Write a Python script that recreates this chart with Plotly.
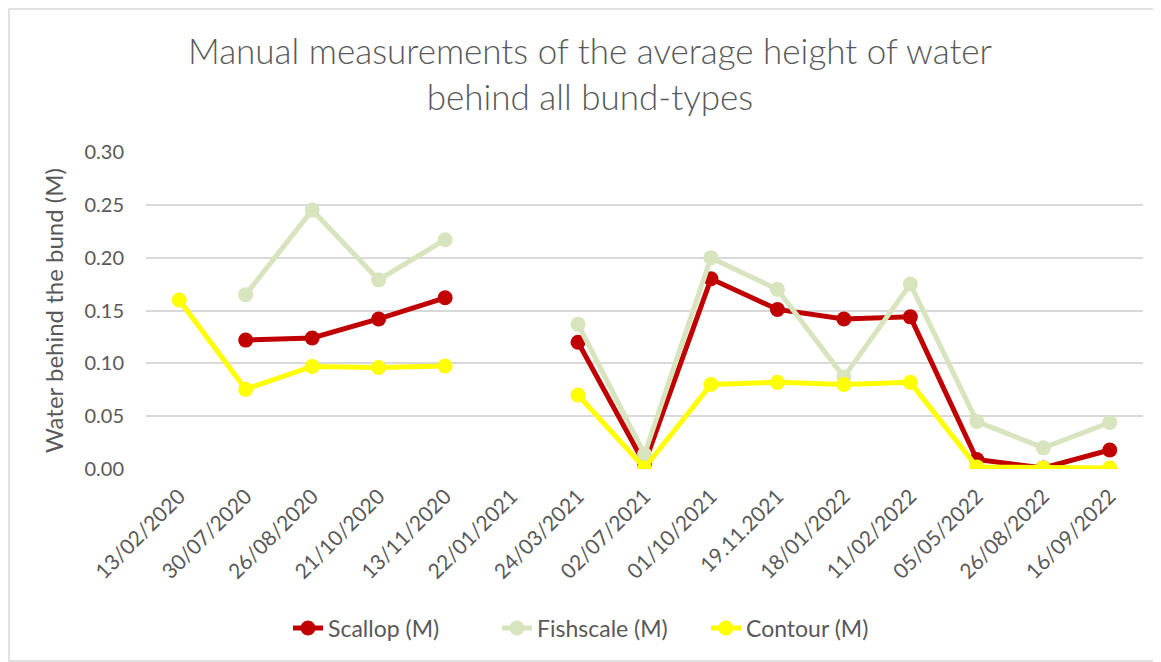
import plotly.graph_objects as go

categories = ["13/02/2020", "30/07/2020", "26/08/2020", "21/10/2020", "13/11/2020",
              "22/01/2021", "24/03/2021", "02/07/2021", "01/10/2021", "19.11.2021",
              "18/01/2022", "11/02/2022", "05/05/2022", "26/08/2022", "16/09/2022"]
scallop = [None, 0.122, 0.124, 0.142, 0.162, None, 0.120, 0.005, 0.180, 0.151,
           0.142, 0.144, 0.009, 0.001, 0.018]
fishscale = [None, 0.165, 0.245, 0.179, 0.217, None, 0.137, 0.014, 0.200, 0.170,
             0.087, 0.175, 0.045, 0.020, 0.044]
contour = [0.160, 0.0755, 0.097, 0.096, 0.0975, None, 0.070, 0.001, 0.080, 0.082,
           0.080, 0.082, 0.002, 0.001, 0.001]
y_ticks = [0, 0.05, 0.10, 0.15, 0.20, 0.25, 0.30]

series = [("Scallop (M)", scallop, "#C00000"),
          ("Fishscale (M)", fishscale, "#D7E4BD"),
          ("Contour (M)", contour, "#FFFF00")]

fig = go.Figure()
for name, vals, col in series:
    fig.add_trace(go.Scatter(
        x=categories, y=vals, name=name, mode="lines+markers",
        line=dict(color=col, width=5), marker=dict(color=col, size=15),
        connectgaps=False))

# page has an 8px body margin, so the figure is 8px smaller than the window
W, H = 1153, 654
ml, mr, mt, mb = 138, 18, 144, 193
pw, ph = W - ml - mr, H - mt - mb

fig.update_layout(
    width=W, height=H,
    margin=dict(l=ml, r=mr, t=mt, b=mb),
    paper_bgcolor="white", plot_bgcolor="white",
    font=dict(family="Lato, Open Sans, sans-serif", color="#595959"),
    title=dict(text="Manual measurements of the average height of water<br>behind all bund-types",
               x=582 / W, xref="container", xanchor="center",
               y=1 - 56 / H, yref="container", yanchor="top",
               font=dict(size=35, color="#595959", weight=300)),
    showlegend=True,
    legend=dict(orientation="h", x=(280 - ml) / pw, xanchor="left",
                y=-(620 - (H - mb)) / ph, yanchor="middle",
                font=dict(size=23, color="#595959"), entrywidth=164, tracegroupgap=0),
    xaxis=dict(type="category", range=[-0.5, len(categories) - 0.5], tickangle=-45,
               tickfont=dict(size=21, color="#595959"), showgrid=False, showline=False,
               zeroline=False, ticks="", ticklabelstandoff=10),
    yaxis=dict(range=[0, 0.30], tickvals=y_ticks, tickformat=".2f",
               tickfont=dict(size=20, color="#595959"), showgrid=True,
               gridcolor="#D9D9D9", gridwidth=1.5, zeroline=False, showline=False,
               ticklabelstandoff=21,
               title=dict(text="Water behind the bund (M)", font=dict(size=24, color="#595959"),
                          standoff=14)),
)

fig.add_shape(type="rect", xref="paper", yref="paper",
              x0=(1 - ml) / pw, x1=(W - 5 - ml) / pw,
              y0=-(mb - 1) / ph, y1=1 + (mt - 1) / ph,
              line=dict(color="#D9D9D9", width=1.5), fillcolor="rgba(0,0,0,0)", layer="below")

fig.write_html("out.html")
